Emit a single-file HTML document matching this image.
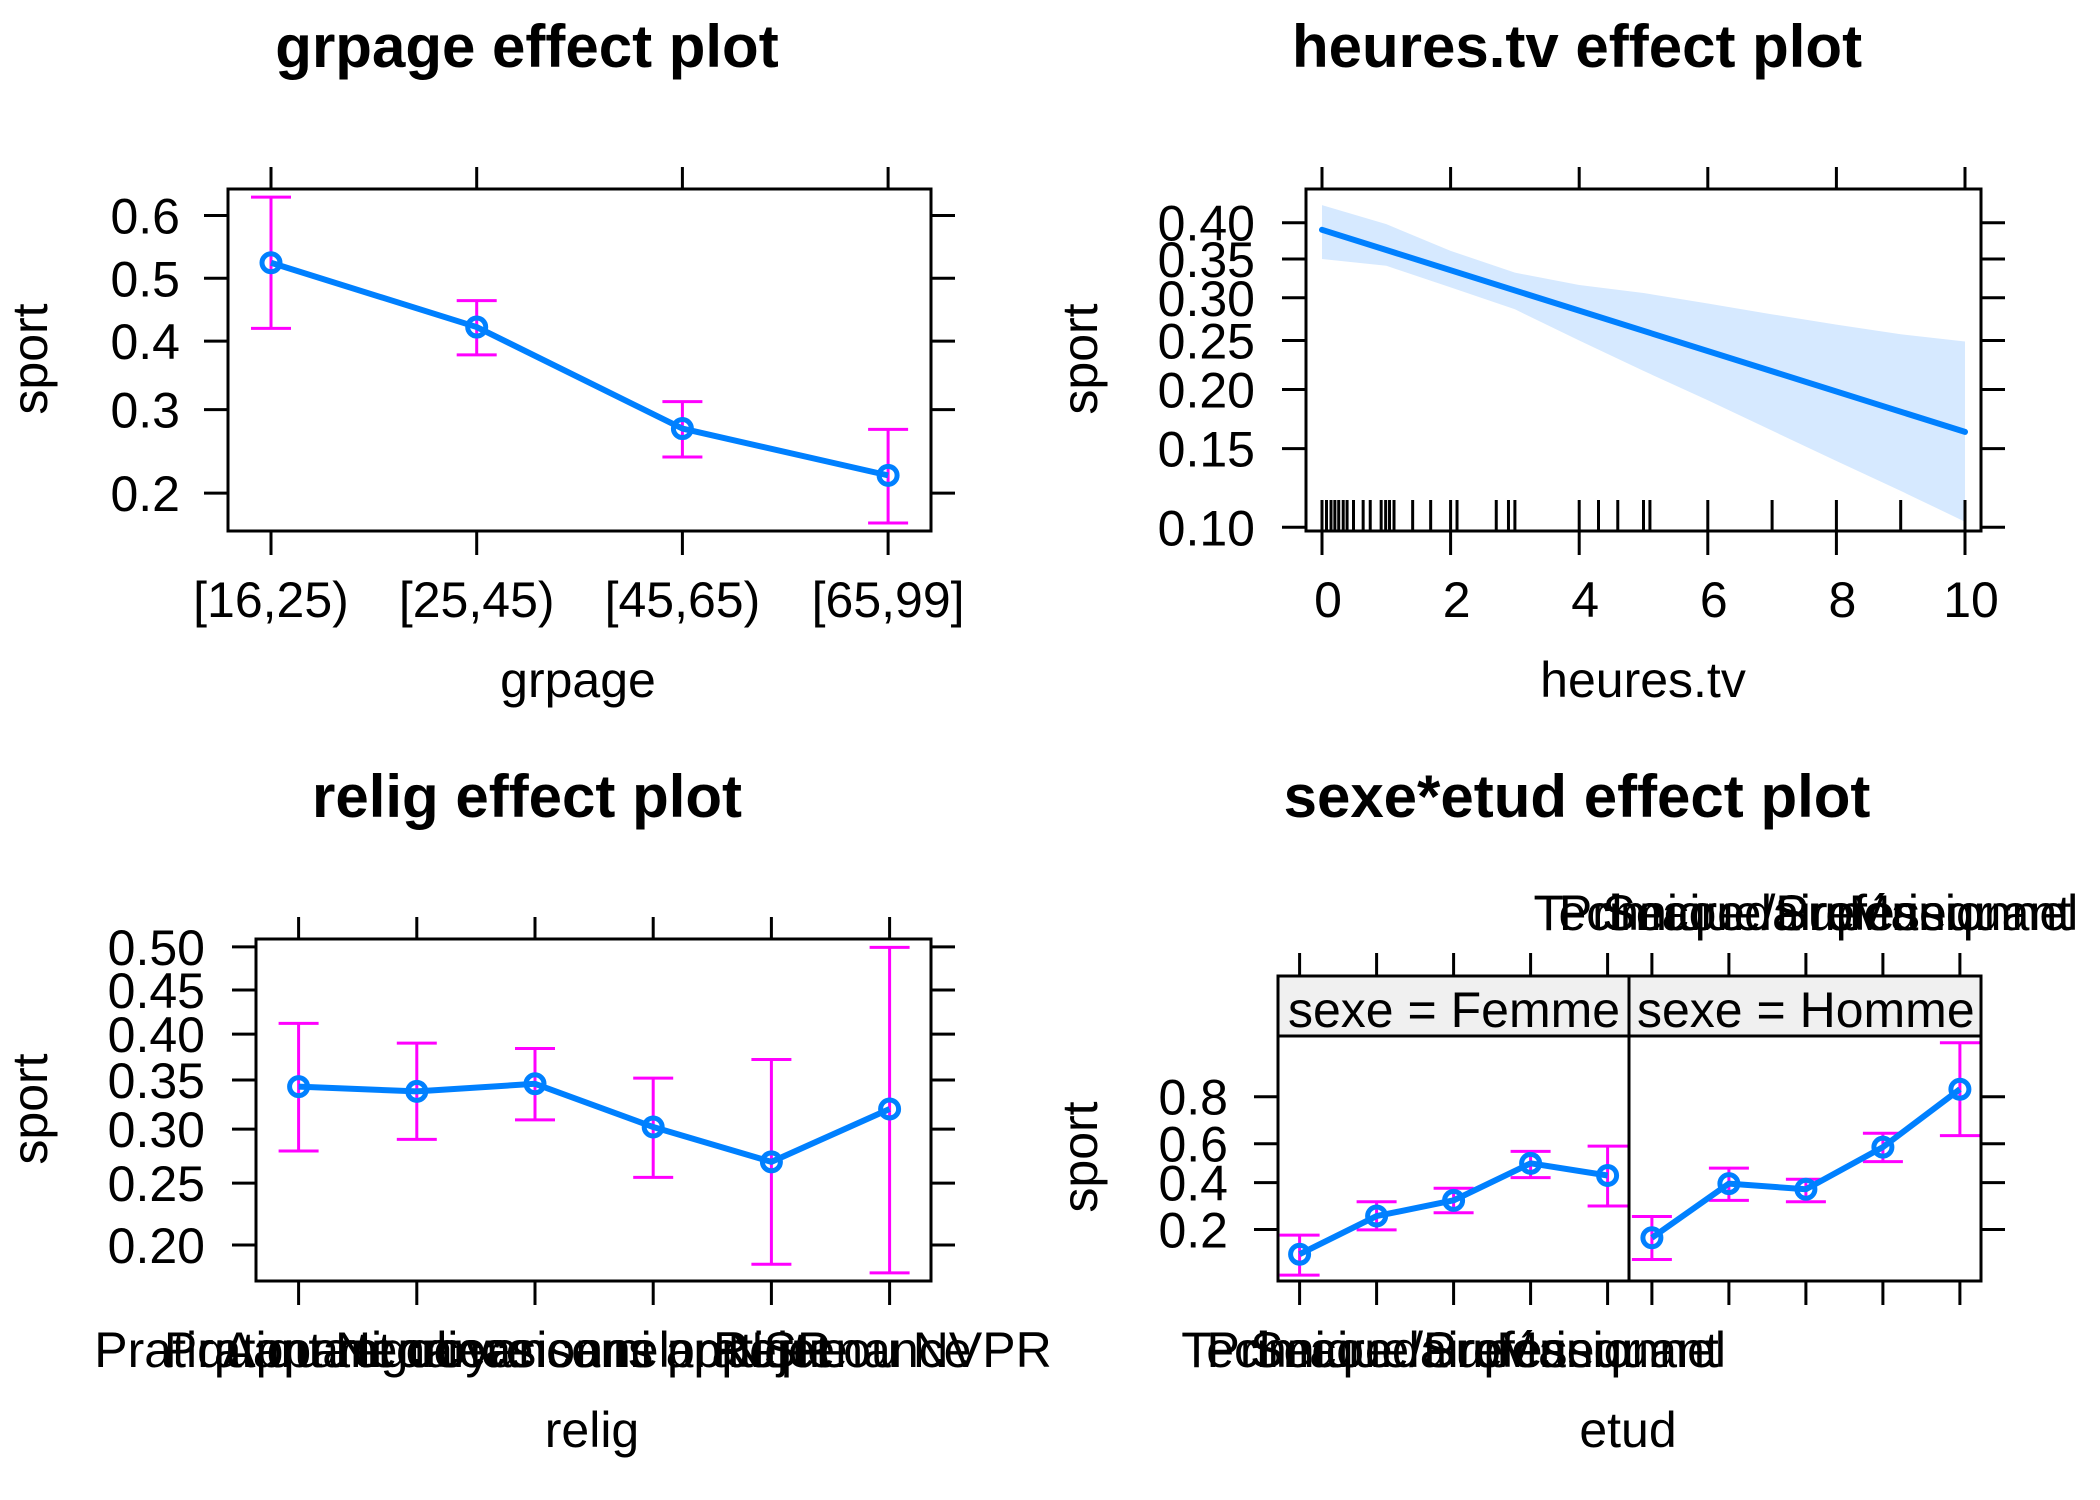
<!DOCTYPE html>
<html><head><meta charset="utf-8"><style>
html,body{margin:0;padding:0;background:#fff}
svg{display:block}
text{font-family:"Liberation Sans",Arial,sans-serif;fill:#000}
</style></head><body>
<svg id="s" width="2100" height="1500" viewBox="0 0 2100 1500" xmlns="http://www.w3.org/2000/svg"></svg>
<script>
// ---- data ----
const grpageCats = ["[16,25)","[25,45)","[45,65)","[65,99]"];
const grpageFit = [0.525,0.422,0.275,0.219];
const grpageLo = [0.420,0.379,0.240,0.171];
const grpageHi = [0.628,0.464,0.311,0.274];
const grpageTicks = [0.2,0.3,0.4,0.5,0.6];

const tvX = [0,1,2,3,4,5,6,7,8,9,10];
const tvUpper = [0.425,0.398,0.361,0.332,0.316,0.306,0.293,0.280,0.268,0.257,0.249];
const tvLower = [0.350,0.341,0.313,0.286,0.250,0.218,0.190,0.164,0.141,0.121,0.103];
const tvFitEnds = [0.39,0.163];
const tvRug = [0,0.07,0.14,0.2,0.26,0.33,0.39,0.49,0.64,0.75,0.92,0.99,1.05,1.12,1.41,1.69,2,2.1,2.71,2.9,3,4,4.3,4.6,5,5.1,6,7,8,9,10];
const tvYTicks = [0.10,0.15,0.20,0.25,0.30,0.35,0.40];
const tvXTicks = [0,2,4,6,8,10];

const religCats = ["Pratiquant regulier","Pratiquant occasionnel","Appartenance sans pratique","Ni croyance ni appartenance","Rejet","NSP ou NVPR"];
const religFit = [0.343,0.338,0.346,0.302,0.269,0.320];
const religLo = [0.279,0.290,0.309,0.255,0.186,0.180];
const religHi = [0.412,0.390,0.384,0.352,0.372,0.4995];
const religTicks = [0.20,0.25,0.30,0.35,0.40,0.45,0.50];

const etudCats = ["Primaire","Secondaire","Technique/Professionnel","Supérieur","Manquant"];
const femmeFit = [0.130,0.249,0.315,0.499,0.436];
const femmeLo = [0.088,0.199,0.262,0.425,0.290];
const femmeHi = [0.182,0.309,0.372,0.561,0.588];
const hommeFit = [0.174,0.395,0.367,0.583,0.824];
const hommeLo = [0.118,0.315,0.309,0.508,0.640];
const hommeHi = [0.247,0.474,0.417,0.651,0.925];
const etudTicks = [0.2,0.4,0.6,0.8];

// ---- helpers ----
const NS="http://www.w3.org/2000/svg";
const svg=document.getElementById('s');
function mk(tag,attrs,parent){const e=document.createElementNS(NS,tag);for(const k in attrs)e.setAttribute(k,attrs[k]);(parent||svg).appendChild(e);return e;}
function txt(str,x,y,size,opts,parent){const e=mk('text',Object.assign({x:x,y:y,'font-size':size},opts||{}),parent);e.textContent=str;return e;}
const logit=p=>Math.log(p/(1-p));
const BLUE="#0080ff", MAG="#ff00ff";

function errPlot(g, xs, fit, lo, hi, yf){
  for(let i=0;i<fit.length;i++){
    const x=xs(i);
    const eb=mk('g',{},g);
    
    
    mk('line',{x1:x,x2:x,y1:yf(lo[i]),y2:yf(hi[i]),stroke:MAG,'stroke-width':3},eb);
    mk('line',{x1:x-20,x2:x+20,y1:yf(lo[i]),y2:yf(lo[i]),stroke:MAG,'stroke-width':3},eb);
    mk('line',{x1:x-20,x2:x+20,y1:yf(hi[i]),y2:yf(hi[i]),stroke:MAG,'stroke-width':3},eb);
  }
  const pts=fit.map((v,i)=>xs(i)+','+yf(v)).join(' ');
  const pl=mk('polyline',{points:pts,fill:'none',stroke:BLUE,'stroke-width':6,'stroke-linejoin':'round'},g);
  
  
  for(let i=0;i<fit.length;i++){
    const c=mk('circle',{cx:xs(i),cy:yf(fit[i]),r:9,fill:'none',stroke:BLUE,'stroke-width':5},g);
    
    
  }
}
function frame(g,x0,y0,x1,y1){mk('rect',{x:x0,y:y0,width:x1-x0,height:y1-y0,fill:'none',stroke:'#000','stroke-width':3},g);}
function yAxis(g,ticks,yf,x0,x1,labelRight,fmt){
  ticks.forEach(t=>{const y=yf(t);
    mk('line',{x1:x0-24,x2:x0,y1:y,y2:y,stroke:'#000','stroke-width':3},g);
    mk('line',{x1:x1,x2:x1+24,y1:y,y2:y,stroke:'#000','stroke-width':3},g);
    const l=txt(fmt(t),labelRight,y+18,50,{'text-anchor':'end'},g);
    
    
  });
}
function vTicks(g,x,yTop0,yTop1,yBot0,yBot1){
  if(yTop0!==null) mk('line',{x1:x,x2:x,y1:yTop0,y2:yTop1,stroke:'#000','stroke-width':3},g);
  if(yBot0!==null) mk('line',{x1:x,x2:x,y1:yBot0,y2:yBot1,stroke:'#000','stroke-width':3},g);
}
function titles(g,title,cx,xlab,xlabX,baseY,ylabX,ylabY){
  const t=txt(title,cx,baseY+67,60,{'text-anchor':'middle','font-weight':'bold'},g);
  
  
  const a=txt(xlab,xlabX,baseY+697,50,{'text-anchor':'middle'},g);
  
  
  const b=txt('sport',0,0,50,{'text-anchor':'middle',transform:'translate('+(ylabX+17)+','+ylabY+') rotate(-90)'},g);
  
  
}

// ---- panel 1: grpage ----
(function(){
  const g=mk('g',{});
  
  
  const X0=228,X1=931,Y0=189,Y1=531;
  const xs=i=>271+i*205.7;
  const yf=p=>278.3-155*logit(p);
  titles(g,'grpage effect plot',527,'grpage',578,0,30,359);
  yAxis(g,grpageTicks,yf,X0,X1,180,t=>t.toFixed(1));
  grpageCats.forEach((c,i)=>{vTicks(g,xs(i),167,Y0,Y1,555);
    const l=txt(c,xs(i),617,50,{'text-anchor':'middle'},g);
    
    });
  errPlot(g,xs,grpageFit,grpageLo,grpageHi,yf);
  frame(g,X0,Y0,X1,Y1);
})();

// ---- panel 2: heures.tv ----
(function(){
  const g=mk('g',{});
  
  
  const X0=1306,X1=1981,Y0=189,Y1=531;
  const xf=v=>1322+v*64.3;
  const yf=p=>222.7+170*(logit(0.4)-logit(p));
  titles(g,'heures.tv effect plot',1577,'heures.tv',1643,0,1080,359);
  let d='M'+tvX.map((v,i)=>xf(v)+','+yf(tvUpper[i])).join(' L');
  d+=' L'+tvX.slice().reverse().map((v,j)=>{const i=tvX.length-1-j;return xf(v)+','+yf(tvLower[i]);}).join(' L')+' Z';
  const band=mk('path',{d:d,fill:'#d6e9ff',stroke:'none'},g);
  
  
  const fl=mk('line',{x1:xf(tvX[0]),y1:yf(tvFitEnds[0]),x2:xf(tvX[tvX.length-1]),y2:yf(tvFitEnds[1]),stroke:BLUE,'stroke-width':6,'stroke-linecap':'round'},g);
  
  
  tvRug.forEach(v=>{const r=mk('line',{x1:xf(v),x2:xf(v),y1:500,y2:Y1,stroke:'#000','stroke-width':3},g);
    
    });
  yAxis(g,tvYTicks,yf,X0,X1,1255,t=>t.toFixed(2));
  tvXTicks.forEach(v=>{vTicks(g,xf(v),167,Y0,Y1,555);
    const l=txt(String(v),xf(v)+6,617,50,{'text-anchor':'middle'},g);
    
    });
  frame(g,X0,Y0,X1,Y1);
})();

// ---- panel 3: relig ----
(function(){
  const g=mk('g',{});
  
  
  const X0=256,X1=931,Y0=939,Y1=1281;
  const xs=i=>298.6+i*118.2;
  const yf=p=>946.9-215*logit(p);
  titles(g,'relig effect plot',527,'relig',592,750,30,1109);
  yAxis(g,religTicks,yf,X0,X1,205,t=>t.toFixed(2));
  religCats.forEach((c,i)=>{vTicks(g,xs(i),917,Y0,Y1,1305);
    const l=txt(c,xs(i),1367,50,{'text-anchor':'middle'},g);
    
    });
  errPlot(g,xs,religFit,religLo,religHi,yf);
  frame(g,X0,Y0,X1,Y1);
})();

// ---- panel 4: sexe*etud ----
(function(){
  const g=mk('g',{});
  
  
  const X0=1278,XM=1629,X1=1981,Y0=976,YS=1036,Y1=1281;
  const yf=p=>1163.15-47.9*logit(p);
  titles(g,'sexe*etud effect plot',1577,'etud',1628,750,1080,1157);
  const s=mk('rect',{x:X0,y:Y0,width:X1-X0,height:YS-Y0,fill:'#f0f0f0'},g);
  
  
  const s1=txt('sexe = Femme',X0+10,1027,50,{},g);
  
  
  const s2=txt('sexe = Homme',XM+8,1027,50,{},g);
  
  
  yAxis(g,etudTicks,yf,X0,X1,1228,t=>t.toFixed(1));
  const xsF=i=>X0+21.6+i*77;
  const xsH=i=>XM+22.9+i*77;
  etudCats.forEach((c,i)=>{
    vTicks(g,xsF(i),953,Y0,Y1,1305);
    vTicks(g,xsH(i),953,Y0,Y1,1305);
    const lb=txt(c,xsF(i),1367,50,{'text-anchor':'middle'},g);
    
    
    const lt=txt(c,xsH(i),930,50,{'text-anchor':'middle'},g);
    
    
  });
  const gf=mk('g',{},g);
  
  
  errPlot(gf,xsF,femmeFit,femmeLo,femmeHi,yf);
  const gh=mk('g',{},g);
  
  
  errPlot(gh,xsH,hommeFit,hommeLo,hommeHi,yf);
  frame(g,X0,Y0,X1,Y1);
  mk('line',{x1:XM,x2:XM,y1:Y0,y2:Y1,stroke:'#000','stroke-width':3},g);
  mk('line',{x1:X0,x2:X1,y1:YS,y2:YS,stroke:'#000','stroke-width':3},g);
})();
</script>
</body></html>
